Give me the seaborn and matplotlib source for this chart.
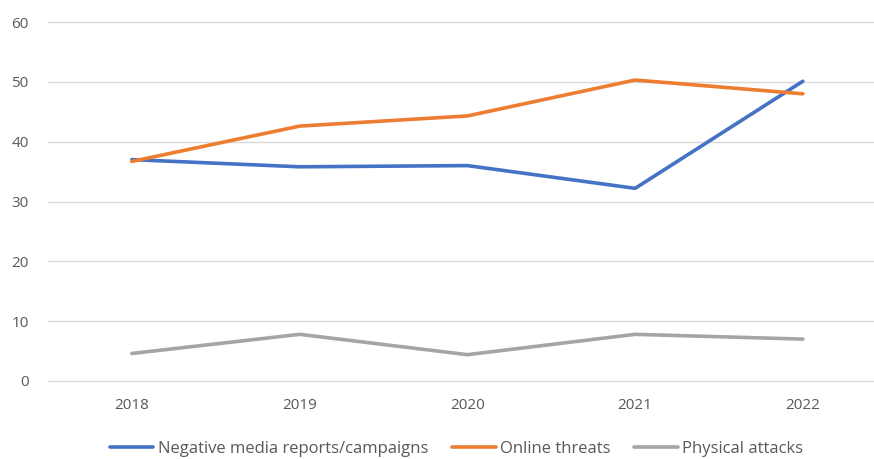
import pandas as pd
import matplotlib
matplotlib.use('Agg')
import matplotlib.pyplot as plt
import seaborn as sns

# Data
years = ['2018', '2019', '2020', '2021', '2022']
negative_media = [37.0, 35.8, 36.0, 32.2, 50.1]
online_threats = [36.7, 42.6, 44.3, 50.3, 48.0]
physical_attacks = [4.6, 7.8, 4.4, 7.8, 7.0]

series_names = ['Negative media reports/campaigns', 'Online threats', 'Physical attacks']
colors = ['#4472C4', '#ED7D31', '#A5A5A5']

rows = []
for name, values in zip(series_names, [negative_media, online_threats, physical_attacks]):
    for i, v in enumerate(values):
        rows.append({'pos': i, 'value': v, 'series': name})
df = pd.DataFrame(rows)

sns.set_style('white')
plt.rcParams['font.family'] = ['Open Sans', 'DejaVu Sans']

fig = plt.figure(figsize=(8.74, 4.59), dpi=100)
ax = fig.add_axes([48 / 874, 78 / 459, 1 - 48 / 874, (381 - 22) / 459])

sns.lineplot(data=df, x='pos', y='value', hue='series', hue_order=series_names,
             palette=colors, linewidth=2.6, ax=ax, legend=True)

ax.set_xlim(-0.5, 4.424)
ax.set_ylim(0, 60)
ax.set_yticks(range(0, 61, 10))
ax.set_xticks(range(len(years)))
ax.set_xticklabels(years)
ax.grid(axis='y', color='#D9D9D9', linewidth=1)
for gl in ax.get_ygridlines():
    gl.set_clip_on(False)
ax.set_axisbelow(True)
for s in ax.spines.values():
    s.set_visible(False)
ax.tick_params(axis='both', length=0, labelsize=11, labelcolor='#595959')
ax.tick_params(axis='x', pad=12)
ax.tick_params(axis='y', pad=14)
ax.set_xlabel('')
ax.set_ylabel('')

handles, labels = ax.get_legend_handles_labels()
ax.legend(handles, labels, loc='center', bbox_to_anchor=(0.5 - 4.5 / 826, -0.189),
          ncol=3, frameon=False, fontsize=12, handlelength=2.6, handletextpad=0.25,
          columnspacing=1.45, labelcolor='#595959')

fig.savefig('out.png', dpi=100)
